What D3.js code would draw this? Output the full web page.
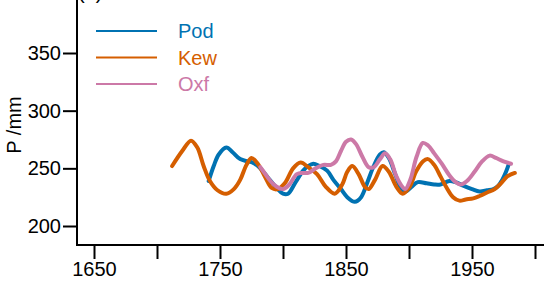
<!DOCTYPE html>
<html>
<head>
<meta charset="utf-8">
<script src="https://cdn.jsdelivr.net/npm/d3@7"></script>
<style>
html,body{margin:0;padding:0;background:#fff;overflow:hidden;}
text{font-family:"Liberation Sans",Arial,sans-serif;}
</style>
</head>
<body>
<svg id="chart" width="544" height="284"></svg>
<script>
const seriesNames = ["Pod", "Kew", "Oxf"];
const seriesColors = ["#0072B2", "#D55E00", "#CC79A7"];

const podYears = [1741,1745,1749,1755,1760,1766,1772,1776,1782,1788,1795,1800,1804,1810,1816,1820,1824,1829,1835,1840,1846,1851,1857,1862,1867,1872,1877,1880,1884,1889,1893,1897,1902,1907,1914,1920,1925,1932,1937,1943,1950,1956,1962,1967,1971,1974,1977,1979];
const podValues = [239,252,262,268,264,258,256,255,250,242,233,228,228,238,248,252,254,252,248,240,232,225,221,225,238,252,262,264,259,245,234,230,234,238,237,236,236,239,238,235,232,230,231,232,235,240,247,253];

const kewYears = [1712,1720,1727,1732,1737,1742,1748,1755,1761,1766,1771,1775,1780,1786,1791,1796,1802,1808,1814,1820,1827,1834,1841,1847,1851,1855,1860,1865,1868,1873,1879,1884,1890,1895,1900,1906,1911,1915,1920,1925,1930,1935,1940,1945,1951,1956,1962,1968,1973,1978,1984];
const kewValues = [252,265,274,268,252,239,231,228,232,240,253,259,254,242,233,232,238,250,255,251,245,234,228,236,247,252,245,234,232,240,252,247,234,228,233,248,256,258,253,243,233,225,222,223,224,226,229,232,237,243,246];

const oxfYears = [1782,1786,1790,1795,1800,1805,1811,1816,1820,1826,1832,1838,1842,1846,1850,1854,1858,1863,1868,1872,1877,1881,1885,1890,1894,1897,1901,1906,1911,1915,1920,1926,1932,1937,1941,1946,1952,1958,1964,1969,1975,1981];
const oxfValues = [251,245,239,234,232,236,245,246,246,250,253,253,256,265,273,275,271,260,251,251,258,263,258,243,235,232,240,260,272,270,263,254,244,238,236,239,247,256,261,259,256,254];

const yTicks = [200, 250, 300, 350];
const xTicks = [1650, 1700, 1750, 1800, 1850, 1900, 1950, 2000];
const xLabels = [1650, 1750, 1850, 1950];
const yLabel = "P /mm";
const panelLabel = "(a)";

const svg = d3.select("#chart");
const axisX0 = 77, axisY0 = 245;

const x = d3.scaleLinear().domain([1650, 2000]).range([94, 535]);
const y = d3.scaleLinear().domain([200, 350]).range([226, 53]);

const ink = "#000";

// y axis
svg.append("line").attr("x1", axisX0).attr("x2", axisX0).attr("y1", 0).attr("y2", axisY0 + 1)
  .attr("stroke", ink).attr("stroke-width", 2);
const yAxis = d3.axisLeft(y).tickValues(yTicks).tickSize(14).tickPadding(2);
const gy = svg.append("g").attr("transform", `translate(${axisX0},0)`).call(yAxis);
gy.select(".domain").remove();
gy.selectAll(".tick line").attr("stroke", ink).attr("stroke-width", 2);
gy.selectAll(".tick text").attr("fill", ink).style("font-size", "20px");

// x axis
svg.append("line").attr("x1", axisX0 - 1).attr("x2", 544).attr("y1", axisY0).attr("y2", axisY0)
  .attr("stroke", ink).attr("stroke-width", 2);
const xAxis = d3.axisBottom(x).tickValues(xTicks).tickSize(14).tickPadding(3)
  .tickFormat(d => xLabels.includes(d) ? String(d) : "");
const gx = svg.append("g").attr("transform", `translate(0,${axisY0})`).call(xAxis);
gx.select(".domain").remove();
gx.selectAll(".tick line").attr("stroke", ink).attr("stroke-width", 2);
gx.selectAll(".tick text").attr("fill", ink).style("font-size", "20px");

// y label
svg.append("text").attr("transform", "translate(21,125) rotate(-90)")
  .attr("text-anchor", "middle").style("font-size", "20px").attr("fill", ink).text(yLabel);

// panel label (cut off at top, as in the reference)
svg.append("text").attr("x", 78).attr("y", -1).style("font-size", "20px").attr("fill", ink).text(panelLabel);

// lines
const line = d3.line().x(d => x(d[0])).y(d => y(d[1])).curve(d3.curveCatmullRom.alpha(0.5));
const data = [
  d3.zip(podYears, podValues),
  d3.zip(kewYears, kewValues),
  d3.zip(oxfYears, oxfValues)
];
data.forEach((pts, i) => {
  svg.append("path").datum(pts).attr("d", line)
    .attr("fill", "none").attr("stroke", seriesColors[i])
    .attr("stroke-width", 4).attr("stroke-linejoin", "round").attr("stroke-linecap", "round");
});

// legend
seriesNames.forEach((name, i) => {
  const ly = 31 + i * 26.5;
  svg.append("line").attr("x1", 96).attr("x2", 157).attr("y1", ly).attr("y2", ly)
    .attr("stroke", seriesColors[i]).attr("stroke-width", 2);
  svg.append("text").attr("x", 178).attr("y", ly + 7).style("font-size", "20px")
    .attr("fill", seriesColors[i]).text(name);
});
</script>
</body>
</html>
